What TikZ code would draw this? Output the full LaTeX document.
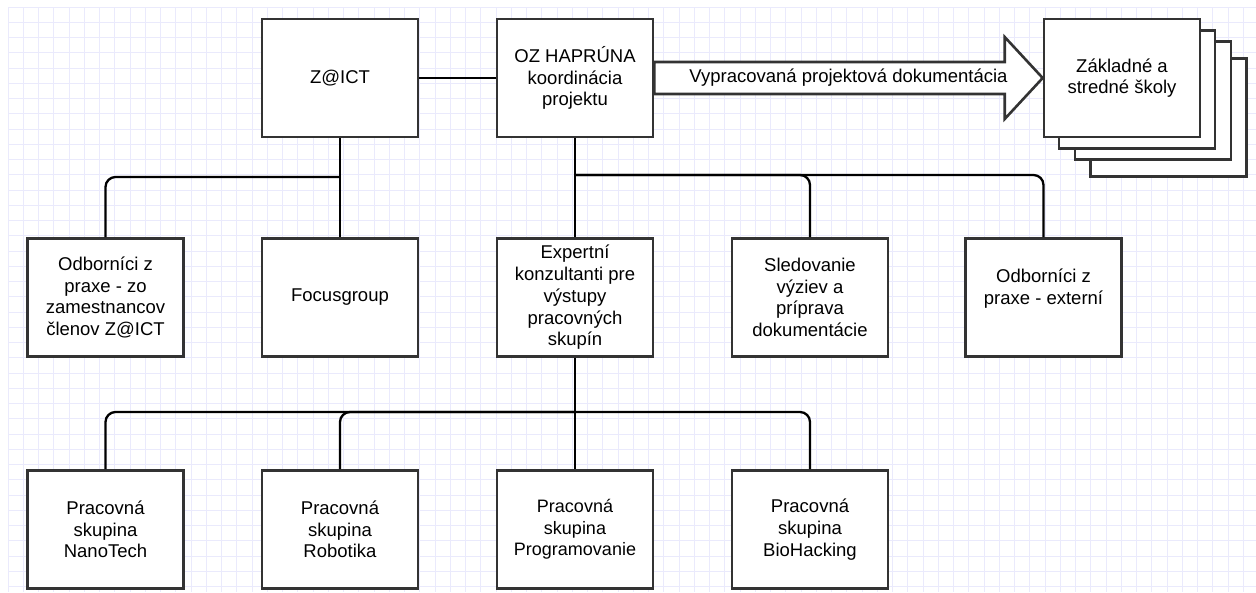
\documentclass[tikz,border=0pt]{standalone}
\usepackage{fontspec}
\setmainfont{Liberation Sans}
\usetikzlibrary{calc}
\definecolor{gridline}{RGB}{234,234,252}
\definecolor{boxline}{RGB}{51,51,51}
\tikzset{orgbox/.style={draw=boxline, line width=2.6pt, fill=white,
		minimum width=156pt, minimum height=118pt, inner sep=2pt,
		align=center, font=\fontsize{18.5}{21.7}\selectfont},
	conn/.style={draw=black, line width=2.3pt, rounded corners=10pt},
	fatarrow/.style={draw=boxline, line width=2.6pt, fill=white, line join=miter}}

\begin{document}
\begin{tikzpicture}[x=1pt,y=-1pt]
		\useasboundingbox (0,0) rectangle (1256,592);
		% grid
		\foreach \gx in {0,...,81}
		\draw[gridline, line width=0.8pt] ({8+15.25*\gx},7) -- ({8+15.25*\gx},592);
		\foreach \gy in {0,...,38}
		\draw[gridline, line width=0.8pt] (8,{7+15.25*\gy}) -- (1256,{7+15.25*\gy});
		% top row
		\node[orgbox] (zict) at (340,78) {Z@ICT};
		\node[orgbox] (oz) at (575,78) {OZ HAPRÚNA\\koordinácia\\projektu};
		\node[orgbox] (schools4) at (1168.5,117.5) {};
		\node[orgbox] (schools3) at (1153,100.5) {};
		\node[orgbox] (schools2) at (1137,89.5) {};
		\node[orgbox] (schools) at (1122,78) {Základné a\\stredné školy};
		% middle row
		\node[orgbox] (odbzam) at (105.5,297.5) {Odborníci z\\praxe - zo\\zamestnancov\\členov Z@ICT};
		\node[orgbox] (focus) at (340,297.5) {Focusgroup};
		\node[orgbox] (expert) at (575,297.5) {Expertní\\konzultanti pre\\výstupy\\pracovných\\skupín};
		\node[orgbox] (sled) at (810,297.5) {Sledovanie\\výziev a\\príprava\\dokumentácie};
		\node[orgbox] (odbext) at (1043.5,297.5) {Odborníci z\\praxe - externí\\~};
		% bottom row
		\node[orgbox] (nano) at (105.5,529.5) {Pracovná\\skupina\\NanoTech};
		\node[orgbox] (robo) at (340,529.5) {Pracovná\\skupina\\Robotika};
		\node[orgbox, font=\fontsize{18}{21.7}\selectfont] (prog) at (575,529.5) {Pracovná\\skupina\\Programovanie};
		\node[orgbox] (bio) at (810,529.5) {Pracovná\\skupina\\BioHacking};
		% connectors
		\coordinate (zbus) at (340,177);
		\coordinate (ozbus) at (575,175);
		\coordinate (expbus) at (575,412);
		\draw[conn] (zict) -- (oz);
		\draw[conn] (zict) -- (focus);
		\draw[conn] (odbzam.north) |- (zbus);
		\draw[conn] (oz) -- (expert);
		\draw[conn] (sled.north) |- (ozbus);
		\draw[conn] (odbext.north) |- (ozbus);
		\draw[conn] (expert) -- (prog);
		\draw[conn] (nano.north) |- (expbus);
		\draw[conn] (robo.north) |- (expbus);
		\draw[conn] (bio.north) |- (expbus);
		% documentation arrow
		\draw[fatarrow] ($(oz.east)+(0,-16)$) -- ($(schools.west)+(-38,-16)$)
		-- ($(schools.west)+(-38,-41)$) -- (schools.west)
		-- ($(schools.west)+(-38,41)$) -- ($(schools.west)+(-38,16)$)
		-- ($(oz.east)+(0,16)$) -- cycle;
		\node[font=\fontsize{18.5}{21.7}\selectfont] (doclabel) at ($(oz.east)!0.5!(schools.west)$) {Vypracovaná projektová dokumentácia};
\end{tikzpicture}
\end{document}
